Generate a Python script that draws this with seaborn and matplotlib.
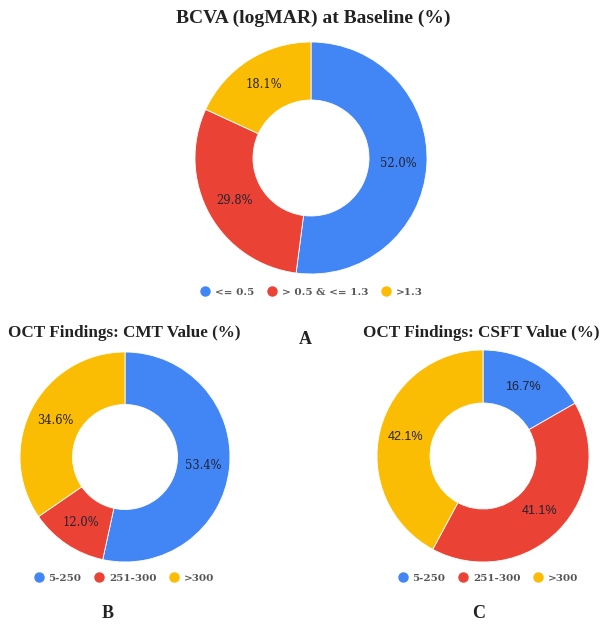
import matplotlib
matplotlib.use("Agg")
import matplotlib.pyplot as plt
from matplotlib.lines import Line2D
import seaborn as sns

# chart data
bcva_labels = ["<= 0.5", "> 0.5 & <= 1.3", ">1.3"]
bcva_values = [52.0, 29.8, 18.1]
cmt_labels = ["5-250", "251-300", ">300"]
cmt_values = [53.4, 12.0, 34.6]
csft_labels = ["5-250", "251-300", ">300"]
csft_values = [16.7, 41.1, 42.1]

W, H = 605, 624
sns.set_theme(style="white")
plt.rcParams['font.family'] = ['Liberation Serif', 'DejaVu Serif']
palette = sns.color_palette(["#4285F4", "#EA4335", "#FBBC04"])

fig = plt.figure(figsize=(W / 100, H / 100), dpi=100)


def px_axes(cx, cy, r):
    return fig.add_axes([(cx - r) / W, 1 - (cy + r) / H, 2 * r / W, 2 * r / H])


def donut(ax, values, label_font, size):
    it = iter(values)
    ax.pie(values, colors=palette, startangle=90, counterclock=False,
           autopct=lambda p: f"{next(it):.1f}%", pctdistance=0.75,
           wedgeprops=dict(width=0.5, edgecolor='white', linewidth=0.6),
           textprops=dict(fontsize=size, color='#222233', family=label_font))
    ax.set_xlim(-1, 1)
    ax.set_ylim(-1, 1)
    ax.set_aspect('equal')
    ax.axis('off')


def legend(labels, cx, cy):
    handles = [Line2D([], [], marker='o', ls='', color=c, markersize=6.5) for c in palette]
    fig.legend(handles, labels, loc='center', bbox_to_anchor=(cx / W, 1 - cy / H),
               ncol=3, frameon=False, handletextpad=0.45, columnspacing=1.2,
               handlelength=1.0,
               prop=dict(size=7.5, weight='bold', family='DejaVu Serif'),
               labelcolor='#555555')


def ftext(x, y, s, size=13, **kw):
    fig.text(x / W, 1 - y / H, s, va='center', fontsize=size, fontweight='bold',
             color='#222222', **kw)


# A: BCVA
donut(px_axes(311, 158, 116), bcva_values, ['DejaVu Serif'], 8.3)
legend(bcva_labels, 311, 292)
ftext(313, 18, "BCVA (logMAR) at Baseline (%)", size=14, ha='center')
ftext(305, 339, "A", ha='center')

# B: CMT
donut(px_axes(125, 457, 105), cmt_values, ['DejaVu Serif'], 8.3)
legend(cmt_labels, 124, 578)
ftext(8, 333, "OCT Findings: CMT Value (%)", size=12.3, ha='left')
ftext(481, 333, "OCT Findings: CSFT Value (%)", size=12.3, ha='center')
ftext(108, 614, "B", ha='center')

# C: CSFT
donut(px_axes(483, 456, 106), csft_values, ['Liberation Sans'], 9)
legend(csft_labels, 488, 578)
ftext(479, 614, "C", ha='center')

plt.savefig("out.png", dpi=100)
plt.close()
